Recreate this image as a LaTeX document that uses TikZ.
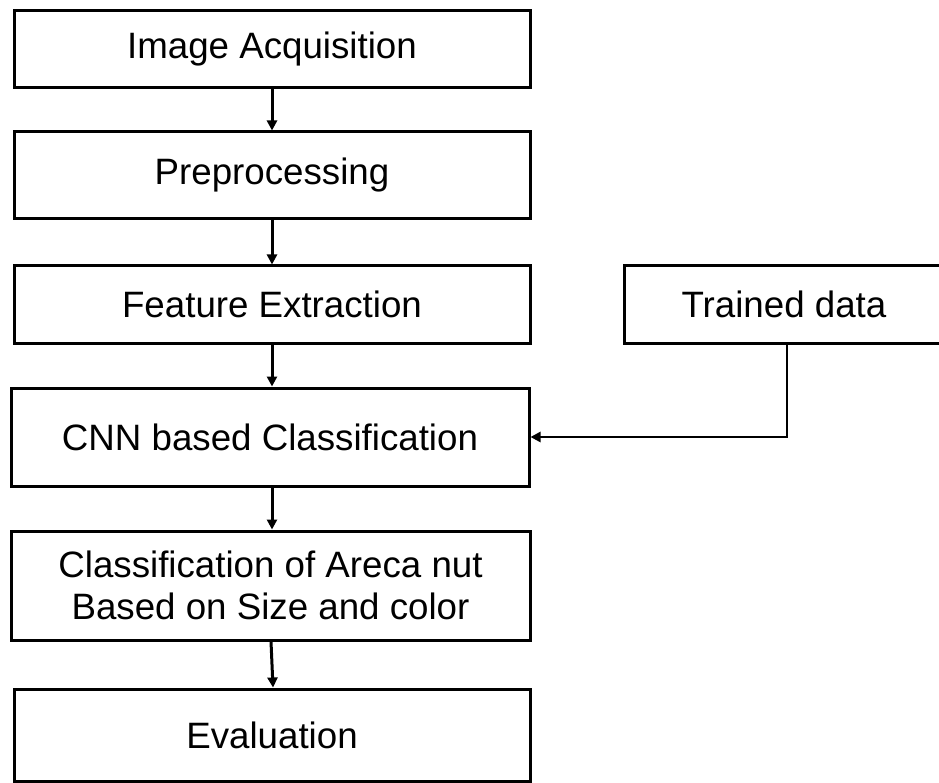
\documentclass[tikz,border=0pt]{standalone}
\usepackage{fontspec}
\setmainfont{Liberation Sans}
\usetikzlibrary{arrows.meta}
\begin{document}
\begin{tikzpicture}[x=1pt,y=-1pt,
  box/.style={draw=black, line width=3pt, fill=white, inner sep=0pt,
    align=center, font=\fontsize{36.7}{42}\selectfont},
  arr/.style={line width=3pt, -{Triangle[length=10pt,width=10pt]}},
  sidearr/.style={line width=2.5pt, -{Triangle[length=10pt,width=10pt]}}]
\useasboundingbox (0,0) rectangle (939,783);
% main pipeline
\node[box, minimum width=516pt, minimum height=77pt]  (acq)  at (272,49.5)  {Image Acquisition};
\node[box, minimum width=516pt, minimum height=87pt]  (pre)  at (272,175.5) {Preprocessing};
\node[box, minimum width=516pt, minimum height=77pt]  (feat) at (272,304.5) {Feature Extraction};
\node[box, minimum width=518pt, minimum height=98pt]  (cnn)  at (270,437)   {CNN based Classification};
\node[box, minimum width=519pt, minimum height=109pt] (cls)  at (270.5,585.5) {Classification of Areca nut\\Based on Size and color};
\node[box, minimum width=516pt, minimum height=92pt]  (eval) at (272,735)   {Evaluation};
% side input
\node[box, minimum width=320pt, minimum height=77pt]  (tr)   at (784,304.5) {Trained data};
% connectors
\draw[arr] (acq.south -| 272,0) -- (pre.north -| 272,0);
\draw[arr] (pre.south -| 272,0) -- (feat.north -| 272,0);
\draw[arr] (feat.south -| 272,0) -- (cnn.north -| 272,0);
\draw[arr] (cnn.south -| 272,0) -- (cls.north -| 272,0);
\draw[arr] (cls.south -| 271,0) -- (eval.north -| 273,0);
\draw[sidearr] ([xshift=3pt]tr.south) |- (cnn.east);
\end{tikzpicture}
\end{document}
